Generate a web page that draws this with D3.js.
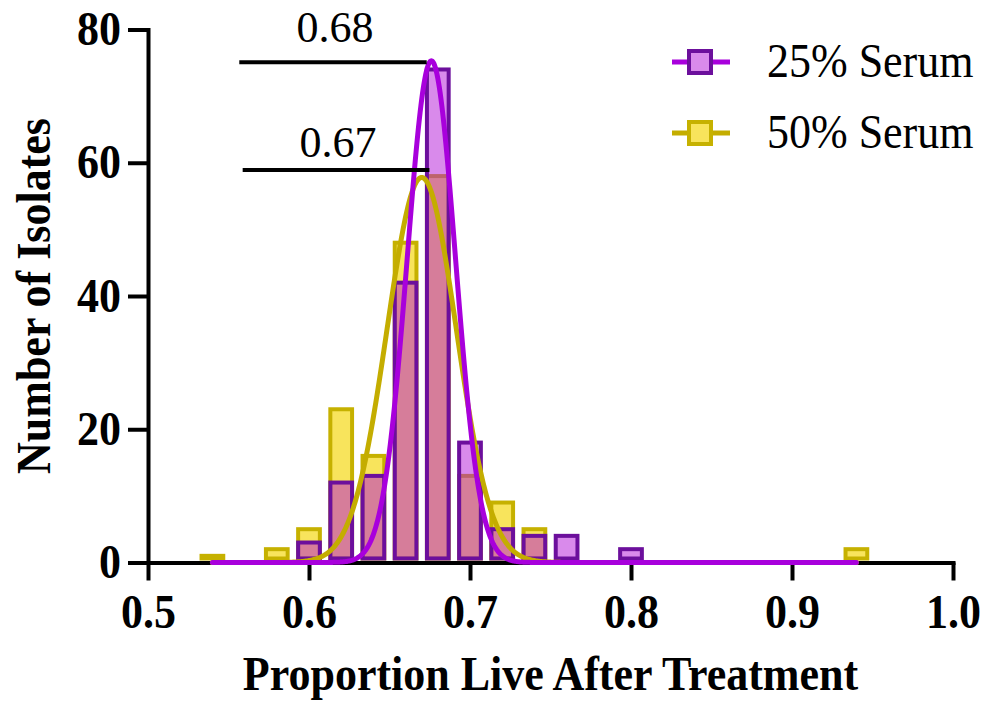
<!DOCTYPE html>
<html><head><meta charset="utf-8">
<script src="https://cdn.jsdelivr.net/npm/d3@7"></script>
<style>body{margin:0;background:#fff}svg{display:block}</style>
</head><body><svg id="chart" width="988" height="702"></svg>
<script>
// ---- data ----
const binCenters = [0.54,0.56,0.58,0.60,0.62,0.64,0.66,0.68,0.70,0.72,0.74,0.76,0.78,0.80,0.82,0.84,0.86,0.88,0.90,0.92,0.94];
const serum25 = [0,0,0,3,12,13,42,74,18,5,4,4,0,2,0,0,0,0,0,0,0];
const serum50 = [1,0,2,5,23,16,48,58,13,9,5,0,0,0,0,0,0,0,0,0,2];
const seriesNames = ["25% Serum","50% Serum"];
// Gaussian fit parameters [25%, 50%]
const fitAmplitude = [75.3, 57.8];
const fitMean = [0.676, 0.670];
const fitSD = [0.0150, 0.0215];
const fitRange = [0.54, 0.94];
const xTicks = [0.5,0.6,0.7,0.8,0.9,1.0];
const yTicks = [0,20,40,60,80];
const annLabels = ["0.68","0.67"];
const annX0 = [0.5567, 0.5588];
const annX1 = [0.6731, 0.6748];
const annY = [75.1, 58.9];
const annLabelY = [78.1, 60.9];

// ---- style ----
const C = {
  p: {curve:"#a800dc", stroke:"#6c0f9c", fill:"rgba(179,21,215,0.5)"},
  y: {curve:"#c4ad00", stroke:"#c6b100", fill:"#f8e45c"}
};
const FONT = "'Liberation Serif','Times New Roman',serif";
const FS = 44, SY = 1.08;

const svg = d3.select("#chart");
svg.append("rect").attr("width",988).attr("height",702).attr("fill","#fff");

const x = d3.scaleLinear().domain([0.5,1.0]).range([148,953]);
const y = d3.scaleLinear().domain([0,80]).range([562.5,29.5]);

function txt(px, py, s, opts={}){
  const sy = opts.sy || SY;
  const t = svg.append("text")
    .attr("transform",`translate(${px},${py}) ${opts.rot?"rotate(-90) ":""}scale(1,${sy})`)
    .attr("text-anchor",opts.anchor||"middle")
    .attr("font-family",FONT).attr("font-size",FS).attr("fill","#000")
    .text(s);
  if (opts.bold) t.attr("font-weight","bold");
  return t;
}

// axes
const gx = svg.append("g").attr("transform",`translate(0,${y(0)})`)
  .call(d3.axisBottom(x).tickValues(xTicks).tickFormat(d3.format(".1f")).tickSize(18).tickSizeOuter(0));
const gy = svg.append("g").attr("transform",`translate(${x(0.5)},0)`)
  .call(d3.axisLeft(y).tickValues(yTicks).tickSize(20).tickSizeOuter(0).tickPadding(7));
[gx,gy].forEach(g=>{
  g.select(".domain").attr("stroke","#000").attr("stroke-width",4).attr("stroke-linecap","square");
  g.selectAll(".tick line").attr("stroke","#000").attr("stroke-width",4);
  g.selectAll(".tick text").attr("fill","#000").attr("font-family",FONT).attr("font-weight","bold")
    .attr("font-size",FS).attr("transform",`scale(1,${SY})`);
});
gx.selectAll(".tick text").attr("dy",null).attr("y",(628-y(0))/SY);

// titles
txt(550.5, 690, "Proportion Live After Treatment", {bold:true});
txt(50, 296, "Number of Isolates", {bold:true, rot:true});

// bars
const binW = x(0.52)-x(0.50);
const barW = binW*0.675;
const base = y(0)-4;
function bars(vals, col){
  svg.append("g").selectAll("rect").data(binCenters.map((c,i)=>({c,v:vals[i]}))).join("rect")
    .attr("x",d=>x(d.c)-barW/2).attr("width",barW)
    .attr("y",d=>Math.min(y(d.v),base)).attr("height",d=>Math.max(0,base-y(d.v)))
    .attr("fill",col.fill).attr("stroke",col.stroke).attr("stroke-width",4);
}
bars(serum50, C.y);
bars(serum25, C.p);

// fit curves
function fitCurve(k, col){
  const pts = d3.range(fitRange[0], fitRange[1]+1e-9, 0.0005).map(v=>[v, fitAmplitude[k]*Math.exp(-((v-fitMean[k])**2)/(2*fitSD[k]**2))]);
  svg.append("path").datum(pts)
    .attr("d", d3.line().x(d=>x(d[0])).y(d=>y(d[1])))
    .attr("fill","none").attr("stroke",col.curve).attr("stroke-width",5).attr("stroke-linejoin","round").attr("stroke-linecap","round");
}
fitCurve(1, C.y);
fitCurve(0, C.p);

// annotations
annLabels.forEach((t,i)=>{
  svg.append("line").attr("x1",x(annX0[i])).attr("x2",x(annX1[i])).attr("y1",y(annY[i])).attr("y2",y(annY[i]))
    .attr("stroke","#000").attr("stroke-width",4);
  txt((x(annX0[i])+x(annX1[i]))/2 + 2, y(annLabelY[i]), t, {sy:1.0});
});

// legend
const legY = [62,133];
const legCols = [C.p, C.y];
const legFills = ["#d98aeb","#f8e45c"];
seriesNames.forEach((n,i)=>{
  const g = svg.append("g").attr("transform",`translate(0,${legY[i]})`);
  g.append("line").attr("x1",672).attr("x2",730).attr("y1",0).attr("y2",0).attr("stroke",legCols[i].curve).attr("stroke-width",5);
  g.append("rect").attr("x",689).attr("y",-11).attr("width",22).attr("height",22)
    .attr("fill",legFills[i]).attr("stroke",legCols[i].stroke).attr("stroke-width",4);
  txt(767, legY[i]+15, n, {anchor:"start"});
});
</script></body></html>
